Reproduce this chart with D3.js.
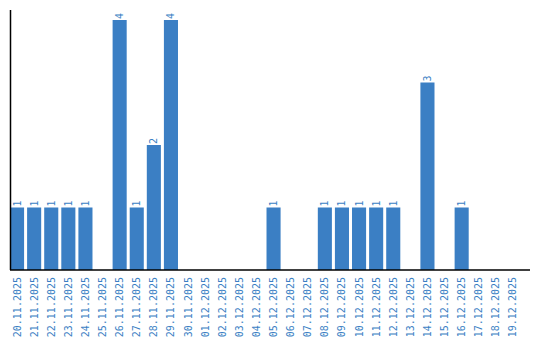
<!DOCTYPE html>
<html>
<head>
<meta charset="utf-8">
<script src="https://cdn.jsdelivr.net/npm/d3@7"></script>
<style>
  body { margin: 0; background: #fff; }
  text { font-family: "DejaVu Sans Mono", "Liberation Mono", monospace; }
</style>
</head>
<body>
<div id="chart"></div>
<script>
const dates = ["20.11.2025", "21.11.2025", "22.11.2025", "23.11.2025", "24.11.2025", "25.11.2025",
    "26.11.2025", "27.11.2025", "28.11.2025", "29.11.2025", "30.11.2025", "01.12.2025", "02.12.2025",
    "03.12.2025", "04.12.2025", "05.12.2025", "06.12.2025", "07.12.2025", "08.12.2025", "09.12.2025",
    "10.12.2025", "11.12.2025", "12.12.2025", "13.12.2025", "14.12.2025", "15.12.2025", "16.12.2025",
    "17.12.2025", "18.12.2025", "19.12.2025"];
const counts = [1, 1, 1, 1, 1, 0, 4, 1, 2, 4, 0, 0, 0, 0, 0, 1, 0, 0, 1, 1, 1, 1, 1, 0, 3, 0, 1, 0, 0, 0];

const width = 540, height = 340;
const margin = {top: 10, right: 10, bottom: 70, left: 10};
const color = "#3b7fc4";

const data = dates.map((d, i) => ({key: d, value: counts[i]}));

const svg = d3.select("#chart")
    .append("svg")
    .attr("width", width)
    .attr("height", height);

const x = d3.scaleBand()
    .domain(dates)
    .range([margin.left, margin.left + dates.length * 17])
    .paddingInner(3 / 17)
    .paddingOuter(0)
    .align(0);

const y = d3.scaleLinear()
    .domain([0, 4])
    .range([height - margin.bottom, 20]);

svg.selectAll("rect.bar")
    .data(data.filter(d => d.value > 0))
    .enter()
    .append("rect")
    .attr("class", "bar")
    .attr("x", d => x(d.key))
    .attr("y", d => y(d.value))
    .attr("width", x.bandwidth())
    .attr("height", d => y(0) - y(d.value))
    .attr("fill", color);

// value labels above bars
svg.selectAll("text.value")
    .data(data.filter(d => d.value > 0))
    .enter()
    .append("text")
    .attr("class", "value")
    .attr("transform", d => `translate(${x(d.key) + x.bandwidth() / 2 + 3.5}, ${y(d.value) - 1}) rotate(-90)`)
    .attr("fill", color)
    .style("font-size", "10px")
    .text(d => d.value);

// x axis
const xAxis = svg.append("g")
    .attr("transform", `translate(0, ${y(0)})`)
    .call(d3.axisBottom(x).tickSize(0).tickPadding(0));
xAxis.select(".domain").remove();
xAxis.selectAll("text")
    .attr("fill", color)
    .style("font-size", "10px")
    .style("font-family", "'DejaVu Sans Mono', monospace")
    .attr("transform", "translate(3.5, 7) rotate(-90)")
    .attr("dy", 0)
    .attr("y", 0)
    .style("text-anchor", "end");

svg.append("line")
    .attr("x1", margin.left)
    .attr("x2", width - margin.right)
    .attr("y1", y(0))
    .attr("y2", y(0))
    .attr("stroke", "black")
    .attr("stroke-width", 1.5);

svg.append("line")
    .attr("x1", margin.left + 0.5)
    .attr("x2", margin.left + 0.5)
    .attr("y1", margin.top)
    .attr("y2", y(0))
    .attr("stroke", "black")
    .attr("stroke-width", 1.5);
</script>
</body>
</html>
